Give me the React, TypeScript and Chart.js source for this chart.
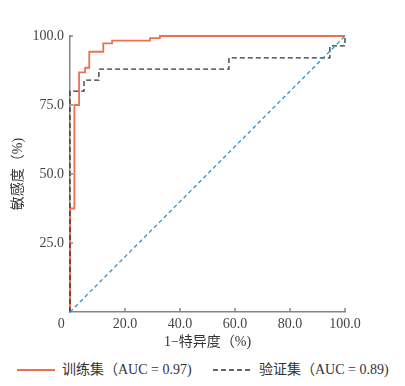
import React, { useEffect, useRef } from "react";
import { Chart, registerables } from "chart.js";

Chart.register(...registerables);

// ROC points (1-specificity %, sensitivity %)
const trainFpr = [0, 0, 1.6, 3.3, 5.5, 7, 12.1, 15.3, 29.1, 32.7, 100];
const trainTpr = [0, 37.5, 75, 86.8, 88.5, 94.3, 97.3, 98.3, 99.2, 100, 100];
const validFpr = [0, 0, 5.1, 10.5, 57.8, 94.5, 100];
const validTpr = [0, 80, 84, 88, 92.1, 96.4, 100];
const refFpr = [0, 100];
const refTpr = [0, 100];

const xTickValues = [0, 20, 40, 60, 80, 100];
const yTickValues = [0, 25, 50, 75, 100];

const trainLabel = "训练集（AUC = 0.97)";
const validLabel = "验证集（AUC = 0.89)";
const xTitle = "1−特异度（%)";
const yTitle = "敏感度（%)";

const FONT = '"Liberation Serif", "Noto Sans CJK SC", serif';
const RED = "#EF6F52";
const DARK = "#333333";
const BLUE = "#2A92D4";
const AXIS = "#858585";

const toPts = (xs: number[], ys: number[]) => xs.map((x, i) => ({ x, y: ys[i] }));

const tickMarks = {
  id: "tickMarks",
  afterDraw(chart: any) {
    const { ctx, scales, chartArea } = chart;
    const x = scales.x;
    const y = scales.y;
    ctx.save();
    ctx.strokeStyle = AXIS;
    ctx.lineWidth = 1.5;
    ctx.beginPath();
    xTickValues.forEach((v) => {
      if (v === 0) return;
      const px = x.getPixelForValue(v);
      ctx.moveTo(px, chartArea.bottom);
      ctx.lineTo(px, chartArea.bottom - 4);
    });
    yTickValues.forEach((v) => {
      if (v === 0) return;
      const py = y.getPixelForValue(v);
      ctx.moveTo(chartArea.left, py);
      ctx.lineTo(chartArea.left + 3, py);
    });
    ctx.stroke();
    ctx.restore();
  },
};

export default function App() {
  const ref = useRef<HTMLCanvasElement>(null);

  useEffect(() => {
    if (!ref.current) return;
    const chart = new Chart(ref.current, {
      type: "scatter",
      data: {
        datasets: [
          {
            label: "ref",
            data: toPts(refFpr, refTpr),
            showLine: true,
            borderColor: BLUE,
            borderWidth: 1.3,
            borderDash: [4, 3],
            pointRadius: 0,
            clip: false as any,
          },
          {
            label: validLabel,
            data: toPts(validFpr, validTpr),
            showLine: true,
            stepped: "before",
            borderColor: DARK,
            borderWidth: 1.3,
            borderDash: [5, 3],
            pointRadius: 0,
            clip: false as any,
          },
          {
            label: trainLabel,
            data: toPts(trainFpr, trainTpr),
            showLine: true,
            stepped: "before",
            borderColor: RED,
            borderWidth: 1.8,
            pointRadius: 0,
            clip: false as any,
          },
        ],
      },
      options: {
        animation: false,
        responsive: true,
        maintainAspectRatio: false,
        layout: { padding: { top: 28, right: 52, left: 0, bottom: 0 } },
        plugins: { legend: { display: false }, tooltip: { enabled: false } },
        scales: {
          x: {
            type: "linear",
            min: 0,
            max: 100,
            afterFit: (s: any) => {
              s.height = 41;
            },
            afterBuildTicks: (s: any) => {
              s.ticks = xTickValues.map((v) => ({ value: v }));
            },
            border: { color: AXIS, width: 1.5 },
            grid: { drawOnChartArea: false, drawTicks: false },
            ticks: {
              padding: 4,
              color: "#444",
              font: { family: FONT, size: 14 },
              maxRotation: 0,
              callback: (v: any) => (Number(v) === 0 ? "0     " : Number(v).toFixed(1)),
            },
            title: {
              display: true,
              text: xTitle,
              color: "#333",
              font: { family: FONT, size: 14 },
              padding: { top: 0, bottom: 2 },
            },
          },
          y: {
            type: "linear",
            min: 0,
            max: 100,
            afterFit: (s: any) => {
              s.width = 62;
            },
            afterBuildTicks: (s: any) => {
              s.ticks = yTickValues.map((v) => ({ value: v }));
            },
            border: { color: AXIS, width: 1.5 },
            grid: { drawOnChartArea: false, drawTicks: false },
            ticks: {
              padding: 6,
              color: "#444",
              font: { family: FONT, size: 14 },
              callback: (v: any) => (Number(v) === 0 ? "" : Number(v).toFixed(1)),
            },
            title: {
              display: true,
              text: yTitle,
              color: "#333",
              font: { family: FONT, size: 14 },
              padding: { top: 2, bottom: 0 },
            },
          },
        },
      },
      plugins: [tickMarks],
    });
    return () => chart.destroy();
  }, []);

  const textStyle: React.CSSProperties = {
    fontFamily: FONT,
    fontSize: 14,
    color: "#333",
    whiteSpace: "nowrap",
    lineHeight: "20px",
  };

  return (
    <div style={{ position: "relative", width: 389, height: 376 }}>
      <div style={{ position: "absolute", left: 0, top: 0, width: 389, height: 345 }}>
        <canvas ref={ref} />
      </div>
      <div
        style={{
          position: "absolute",
          left: 9,
          top: 352,
          height: 20,
          display: "flex",
          alignItems: "center",
        }}
      >
        <svg width={38} height={4} style={{ display: "block", marginRight: 7 }}>
          <line x1={0} y1={2} x2={38} y2={2} stroke={RED} strokeWidth={2} />
        </svg>
        <span style={textStyle}>{trainLabel}</span>
      </div>
      <div
        style={{
          position: "absolute",
          left: 205,
          top: 352,
          height: 20,
          display: "flex",
          alignItems: "center",
        }}
      >
        <svg width={38} height={4} style={{ display: "block", marginRight: 8 }}>
          <line
            x1={0}
            y1={2}
            x2={38}
            y2={2}
            stroke={DARK}
            strokeWidth={1.3}
            strokeDasharray="5 3"
          />
        </svg>
        <span style={textStyle}>{validLabel}</span>
      </div>
    </div>
  );
}
